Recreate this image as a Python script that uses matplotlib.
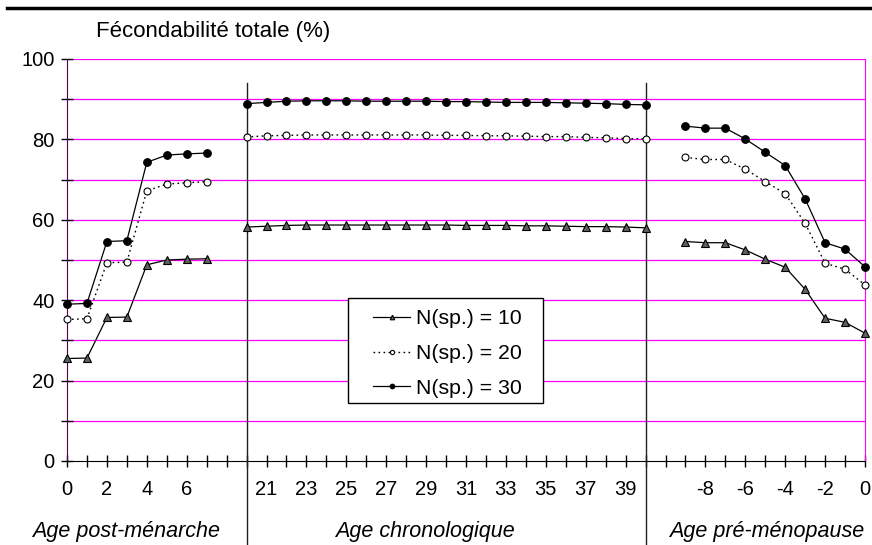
import numpy as np
import matplotlib.pyplot as plt
from matplotlib.lines import Line2D
from matplotlib.patches import Rectangle

plt.rcParams['font.family'] = ['Liberation Sans', 'DejaVu Sans']

# ages in each of the three panels
post_ages = [0, 1, 2, 3, 4, 5, 6, 7]
chrono_ages = list(range(20, 41))
meno_ages = list(range(-9, 1))

# fecondabilite totale (%)
post_n10 = [25.5, 25.6, 35.7, 35.8, 48.8, 50.0, 50.2, 50.3]
post_n20 = [35.2, 35.4, 49.3, 49.5, 67.2, 68.9, 69.2, 69.5]
post_n30 = [39.0, 39.2, 54.6, 54.8, 74.3, 76.1, 76.4, 76.6]

chrono_n10 = [58.2, 58.4, 58.6, 58.7, 58.7, 58.7, 58.7, 58.7, 58.7, 58.7, 58.7,
              58.6, 58.6, 58.6, 58.5, 58.5, 58.4, 58.3, 58.3, 58.2, 58.0]
chrono_n20 = [80.6, 80.9, 81.0, 81.1, 81.1, 81.1, 81.1, 81.1, 81.1, 81.1, 81.0,
              81.0, 80.9, 80.9, 80.8, 80.7, 80.7, 80.5, 80.4, 80.2, 80.1]
chrono_n30 = [88.9, 89.2, 89.5, 89.6, 89.6, 89.6, 89.5, 89.5, 89.5, 89.5, 89.4,
              89.4, 89.3, 89.2, 89.2, 89.2, 89.1, 89.0, 88.9, 88.7, 88.6]

meno_n10 = [54.6, 54.3, 54.3, 52.5, 50.2, 48.2, 42.7, 35.5, 34.5, 31.8]
meno_n20 = [75.5, 75.0, 75.0, 72.6, 69.5, 66.5, 59.1, 49.2, 47.7, 43.8]
meno_n30 = [83.3, 82.8, 82.8, 80.1, 76.8, 73.5, 65.2, 54.3, 52.7, 48.3]

series_labels = ['N(sp.) = 10', 'N(sp.) = 20', 'N(sp.) = 30']

# slots on the category axis (one empty slot between panels)
x_post = np.arange(len(post_ages))
x_chrono = np.arange(len(chrono_ages)) + len(post_ages) + 1
x_meno = np.arange(len(meno_ages)) + x_chrono[-1] + 2
n_slots = x_meno[-1] + 1

tick_labels = [''] * n_slots
for x, a in zip(x_post, post_ages):
    if a % 2 == 0:
        tick_labels[x] = str(a)
for x, a in zip(x_chrono, chrono_ages):
    if a % 2 == 1:
        tick_labels[x] = str(a)
for x, a in zip(x_meno, meno_ages):
    if a % 2 == 0:
        tick_labels[x] = str(a)

fig = plt.figure(figsize=(8.72, 5.45), dpi=100)
ax = fig.add_axes([67 / 872, 84 / 545, 798 / 872, 402 / 545])

styles = [
    dict(color='black', lw=0.9, ls='-', marker='^', ms=5.5, mfc='#606060', mec='black', mew=0.8),
    dict(color='black', lw=1.0, ls=(0, (1.2, 2.4)), marker='o', ms=5, mfc='white', mec='black', mew=0.8),
    dict(color='black', lw=0.9, ls='-', marker='o', ms=5.5, mfc='black', mec='black', mew=0.8),
]
segments = [
    (x_post, [post_n10, post_n20, post_n30]),
    (x_chrono, [chrono_n10, chrono_n20, chrono_n30]),
    (x_meno, [meno_n10, meno_n20, meno_n30]),
]
for k, (xs, ys) in enumerate(segments):
    for i, y in enumerate(ys):
        ax.plot(xs, y, label=series_labels[i] if k == 0 else None, zorder=5, clip_on=False, **styles[i])

# separators between panels
for xv in [x_chrono[0], x_chrono[-1]]:
    ax.axvline(xv, ymin=-0.21, ymax=0.94, color='#202020', lw=1.0, clip_on=False, zorder=4)

ax.set_xlim(0, n_slots - 1)
ax.set_ylim(0, 100)
ax.set_yticks(range(0, 101, 20))
ax.set_yticks(range(10, 100, 20), minor=True)
ax.set_xticks(range(n_slots))
ax.set_xticklabels(tick_labels)
ax.tick_params(axis='both', which='both', direction='inout', length=8, width=1, labelsize=14.5)
ax.tick_params(axis='x', pad=10)
ax.tick_params(axis='y', pad=5)

for yv in range(10, 101, 10):
    ax.axhline(yv, color='#ff00ff', lw=0.9, zorder=1)

ax.spines['top'].set_visible(False)
ax.spines['right'].set_color('#ff00ff')
ax.spines['left'].set_color('#500050')
ax.spines['bottom'].set_color('black')

# legend box drawn separately (wider side padding than matplotlib gives)
ax.add_patch(Rectangle((0.352, 0.144), 0.244, 0.261, transform=ax.transAxes,
                       facecolor='white', edgecolor='black', lw=1.0, zorder=9))
leg = ax.legend(loc='upper left', bbox_to_anchor=(0.3835, 0.377), fontsize=15.3, frameon=False,
                markerscale=0.6, handlelength=1.75, handletextpad=0.28, borderpad=0,
                borderaxespad=0, labelspacing=0.74)
leg.set_zorder(10)

# panel captions under the axis
fig.text(126 / 872, 1 - 531 / 545, 'Age post-ménarche', style='italic', fontsize=15.5, ha='center', va='center')
fig.text(425 / 872, 1 - 531 / 545, 'Age chronologique', style='italic', fontsize=15.5, ha='center', va='center')
fig.text(767 / 872, 1 - 531 / 545, 'Age pré-ménopause', style='italic', fontsize=15.5, ha='center', va='center')

fig.text(96 / 872, 1 - 32 / 545, 'Fécondabilité totale (%)', fontsize=16, ha='left', va='center')
fig.add_artist(Line2D([7 / 872, 1], [1 - 8 / 545, 1 - 8 / 545], color='black', lw=2.5))

fig.savefig('out.png', dpi=100)
